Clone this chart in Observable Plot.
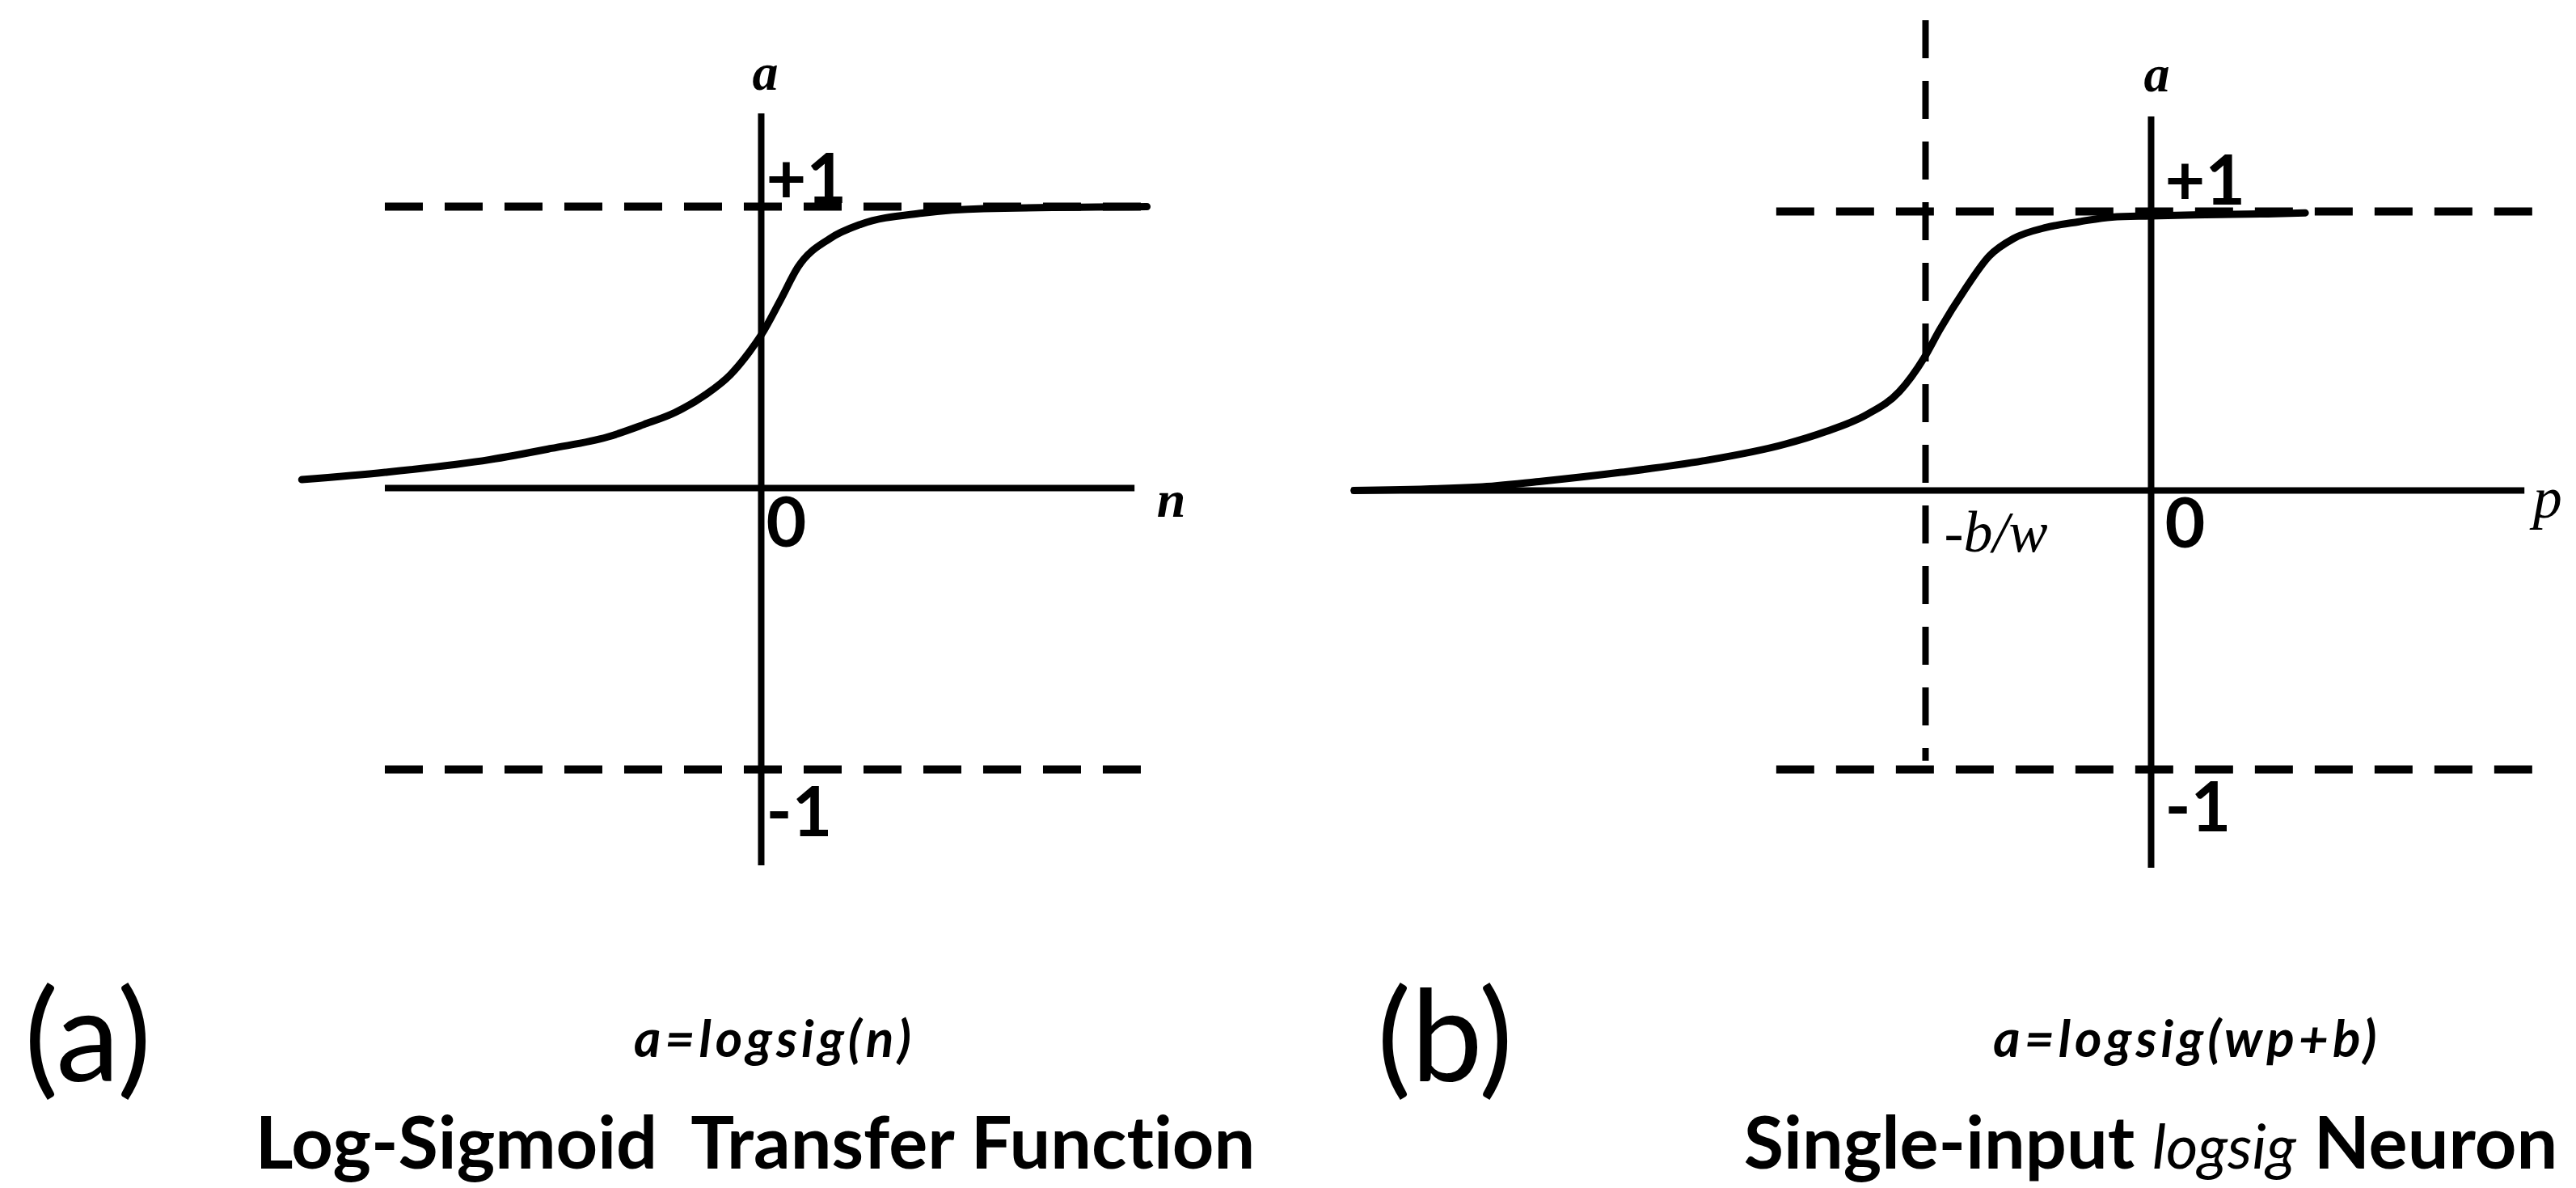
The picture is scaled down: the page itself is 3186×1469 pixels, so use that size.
<!DOCTYPE html>
<html>
<head>
<meta charset="utf-8">
<script src="https://cdn.jsdelivr.net/npm/d3@7"></script>
<script src="https://cdn.jsdelivr.net/npm/@observablehq/plot@0.6"></script>
<style>
  html, body { margin: 0; padding: 0; background: #fff; }
  #page { position: relative; width: 3186px; height: 1469px; background: #fff; overflow: hidden; }
  .panel { position: absolute; top: 0; }
  .cap { position: absolute; color: #000; white-space: pre; line-height: 1.2; font-family: Lato, "Open Sans", sans-serif;
         font-variant-ligatures: none; font-feature-settings: "liga" 0, "dlig" 0, "clig" 0; }
  .tag { font-size: 158px; font-weight: 400; }
  .formula { font-size: 64px; font-style: italic; font-weight: 700; letter-spacing: 5px; text-align: center; width: 1600px; }
  .title { font-size: 90px; font-weight: 700; text-align: center; width: 1600px; }
  .title i { font-size: 76px; font-weight: 400; }
  svg text { font-variant-ligatures: none; }
</style>
</head>
<body>
<div id="page"></div>
<script>
// (a) log-sigmoid transfer function a = logsig(n), traced point by point
const curveA_n = [-6.11, -5.0, -3.61, -2.79, -2.05, -1.56, -1.15, -0.74, -0.41, -0.16, 0, 0.25, 0.49, 0.91, 1.32, 2.14, 2.96, 5.13];
const curveA_a = [0.03, 0.056, 0.101, 0.141, 0.181, 0.226, 0.268, 0.332, 0.403, 0.483, 0.544, 0.665, 0.786, 0.886, 0.937, 0.977, 0.993, 1.0];

// (b) single-input neuron a = logsig(wp + b), centred on p = -b/w
const curveB_p = [-10.6, -8.95, -8.14, -7.05, -5.96, -4.87, -4.33, -3.78, -3.35, -3.02, -2.81, -2.48, -2.15, -1.83, -1.39, -0.96, -0.52, 0, 0.57, 1.65, 2.05];
const curveB_a = [0, 0.012, 0.032, 0.065, 0.106, 0.166, 0.211, 0.272, 0.354, 0.475, 0.577, 0.719, 0.841, 0.903, 0.943, 0.963, 0.98, 0.984, 0.988, 0.992, 0.995];
const biasShift = -3;           // position of -b/w on the p axis

// Axis extents and asymptote levels
const asymptotes = [1, -1];
const axisA = {x: [-5.0, 4.97], y: [-1.342, 1.33], dash: [-5.0, 5.12]};
const axisB = {x: [-10.63, 4.97], y: [-1.354, 1.339], dash: [-4.98, 5.08], guide: [1.684, -0.97]};

// Tick labels and captions
const valueLabels = {top: "+1", origin: "0", bottom: "-1"};
const captionsA = {tag: "(a)", formula: "a=logsig(n)", title: "Log-Sigmoid  Transfer Function"};
const captionsB = {tag: "(b)", formula: "a=logsig(wp+b)", titlePre: "Single-input ", titleItalic: "logsig", titlePost: " Neuron"};

const dataA = curveA_n.map((n, i) => ({n, a: curveA_a[i]}));
const dataB = curveB_p.map((p, i) => ({p, a: curveB_a[i]}));

const W = 1593, H = 1180;
const serif = "Liberation Serif, Times New Roman, serif";
const sans = "Lato, Open Sans, sans-serif";
const dash = "47 27";
const axisWidth = 8, curveWidth = 9, dashWidth = 10;

function panel(xDomain, yDomain, marks) {
  return Plot.plot({
    width: W, height: H, margin: 0,
    x: {domain: xDomain, axis: null},
    y: {domain: yDomain, axis: null},
    style: {background: "transparent", overflow: "visible", color: "#000"},
    marks
  });
}

function numberLabels(dxv, dys) {
  const common = {x: 0, dx: dxv, textAnchor: "start", lineAnchor: "bottom", fontFamily: sans, fontWeight: 700, fontSize: 86, fill: "#000"};
  return [
    Plot.text([valueLabels.top], {...common, y: 1, dy: dys[0]}),
    Plot.text([valueLabels.origin], {...common, y: 0, dy: dys[1]}),
    Plot.text([valueLabels.bottom], {...common, y: -1, dy: dys[2]})
  ];
}

const plotA = panel([-10.118, 7.011], [-1.658, 1.7328], [
  Plot.ruleY(asymptotes, {x1: axisA.dash[0], x2: axisA.dash[1], stroke: "#000", strokeWidth: dashWidth, strokeDasharray: dash}),
  Plot.ruleY([0], {x1: axisA.x[0], x2: axisA.x[1], stroke: "#000", strokeWidth: axisWidth}),
  Plot.ruleX([0], {y1: axisA.y[0], y2: axisA.y[1], stroke: "#000", strokeWidth: axisWidth}),
  Plot.line(dataA, {x: "n", y: "a", curve: "monotone-x", stroke: "#000", strokeWidth: curveWidth}),
  Plot.text(["a"], {x: 0, y: axisA.y[1], dx: 5, dy: -30, lineAnchor: "bottom", fontFamily: serif, fontStyle: "italic", fontWeight: 700, fontSize: 64, fill: "#000"}),
  Plot.text(["n"], {x: axisA.x[1], y: 0, dx: 27, dy: 35, textAnchor: "start", lineAnchor: "bottom", fontFamily: serif, fontStyle: "italic", fontWeight: 700, fontSize: 64, fill: "#000"}),
  ...numberLabels(6, [-5, 72, 82])
]);

const plotB = panel([-11.473, 5.656], [-1.6638, 1.7565], [
  Plot.ruleY(asymptotes, {x1: axisB.dash[0], x2: axisB.dash[1], stroke: "#000", strokeWidth: dashWidth, strokeDasharray: dash}),
  Plot.ruleX([biasShift], {y1: axisB.guide[0], y2: axisB.guide[1], stroke: "#000", strokeWidth: axisWidth, strokeDasharray: "47 28"}),
  Plot.ruleY([0], {x1: axisB.x[0], x2: axisB.x[1], stroke: "#000", strokeWidth: axisWidth}),
  Plot.ruleX([0], {y1: axisB.y[0], y2: axisB.y[1], stroke: "#000", strokeWidth: axisWidth}),
  Plot.line(dataB, {x: "p", y: "a", curve: "monotone-x", stroke: "#000", strokeWidth: curveWidth}),
  Plot.text(["a"], {x: 0, y: axisB.y[1], dx: 7, dy: -32, lineAnchor: "bottom", fontFamily: serif, fontStyle: "italic", fontWeight: 700, fontSize: 64, fill: "#000"}),
  Plot.text(["p"], {x: axisB.x[1], y: 0, dx: 10, dy: 34, textAnchor: "start", lineAnchor: "bottom", fontFamily: serif, fontStyle: "italic", fontSize: 72, fill: "#000"}),
  Plot.text(["-b/w"], {x: biasShift, y: 0, dx: 23, dy: 76, textAnchor: "start", lineAnchor: "bottom", fontFamily: serif, fontStyle: "italic", fontSize: 72, fill: "#000"}),
  ...numberLabels(17, [-8, 71, 77])
]);

const page = document.getElementById("page");
plotA.classList.add("panel");
plotA.style.left = "0px";
plotB.classList.add("panel");
plotB.style.left = W + "px";
page.append(plotA, plotB);

// Captions below each panel, placed by baseline
function caption(cls, html, left, baseline, size) {
  const d = document.createElement("div");
  d.className = "cap " + cls;
  d.innerHTML = html;
  d.style.left = left + "px";
  d.style.top = (baseline - 0.987 * size) + "px";
  page.append(d);
  return d;
}
caption("tag", captionsA.tag, 30, 1338, 158);
caption("formula", captionsA.formula, 958 - 800, 1308, 64);
caption("title", captionsA.title, 934 - 800, 1445, 90);
caption("tag", captionsB.tag, 1703, 1338, 158);
caption("formula", captionsB.formula, 2705 - 800, 1308, 64);
caption("title", captionsB.titlePre + "<i>" + captionsB.titleItalic + "</i>" + captionsB.titlePost, 2660 - 800, 1445, 90);
</script>
</body>
</html>
